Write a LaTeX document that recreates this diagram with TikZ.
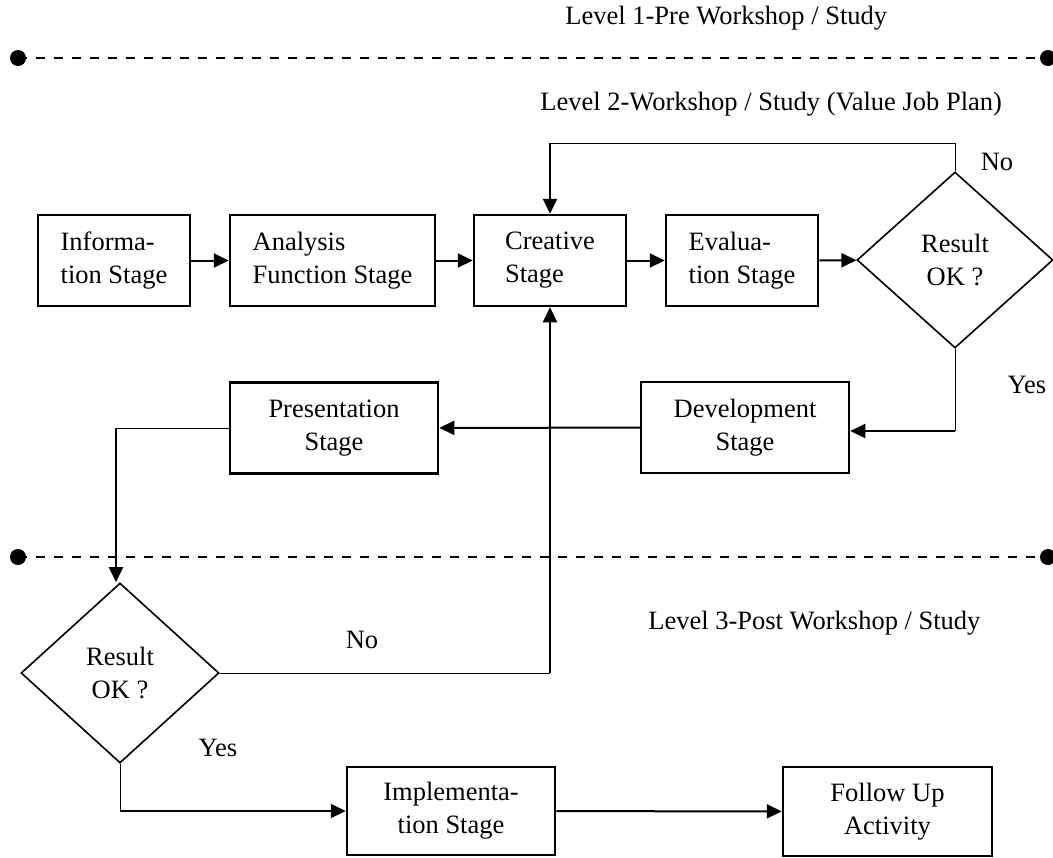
\documentclass[tikz,border=0pt]{standalone}
\usepackage{fontspec}
\setmainfont{Liberation Serif}
\usetikzlibrary{arrows.meta,shapes.geometric}
\begin{document}
\begin{tikzpicture}[x=0.5pt,y=-0.5pt,
  font=\fontsize{13.25}{16.5}\selectfont,
  stagebox/.style={draw,line width=1.25pt,inner sep=0pt,minimum height=45.5pt},
  decision/.style={draw,diamond,line width=0.8pt,inner sep=0pt,minimum width=98pt,minimum height=88pt,align=center},
  thinline/.style={line width=0.5pt},
  flow/.style={line width=1pt,-{Triangle[length=7.5pt,width=7pt]}},
  levelline/.style={line width=1.3pt,dash pattern=on 4.5pt off 4.5pt},
  lbl/.style={inner sep=0pt}]
\useasboundingbox (0,0) rectangle (1053,857);
% level separators
\fill (18,58) circle (4pt);
\fill (1048,58) circle (4pt);
\draw[levelline] (18,58) -- (1048,58);
\fill (18,557) circle (4pt);
\fill (1048,557) circle (4pt);
\draw[levelline] (18,557) -- (1048,557);
\node[lbl,anchor=west] (lv1) at (565,18) {Level 1-Pre Workshop / Study};
\node[lbl,anchor=west] (lv2) at (540,104) {Level 2-Workshop / Study (Value Job Plan)};
\node[lbl,anchor=west] (lv3) at (648,623) {Level 3-Post Workshop / Study};
% stages
\node[stagebox,minimum width=76pt,align=left] (info) at (114,260.5) {Informa-\\tion Stage};
\node[stagebox,minimum width=102.5pt,align=left] (ana) at (332.5,260.5) {Analysis\\Function Stage};
\node[stagebox,minimum width=76pt,align=left] (cre) at (550,260.5) {Creative\\Stage};
\node[stagebox,minimum width=76pt,align=left] (eva) at (742,260.5) {Evalua-\\tion Stage};
\node[decision] (d1) at (955,260) {Result\\OK ?};
\node[stagebox,minimum width=104pt,align=center] (dev) at (745,427.5) {Development\\Stage};
\node[stagebox,minimum width=104pt,align=center] (pre) at (334,428) {Presentation\\Stage};
\node[decision,minimum width=99pt,minimum height=90pt] (d2) at (120,673) {Result\\OK ?};
\node[stagebox,minimum width=104pt,minimum height=44pt,align=center] (imp) at (451,811) {Implementa-\\tion Stage};
\node[stagebox,minimum width=104.5pt,minimum height=44.5pt,align=center] (fol) at (887.5,811.5) {Follow Up\\Activity};
% labels
\node[lbl] (no1) at (997,162) {No};
\node[lbl] (yes1) at (1027,385) {Yes};
\node[lbl] (no2) at (362,640) {No};
\node[lbl] (yes2) at (218,748) {Yes};
% bends
\coordinate (b1) at (955,143);
\coordinate (b2) at (550,143);
\coordinate (b3) at (955,431);
\coordinate (b4) at (116,428);
\coordinate (b5) at (550,673);
\coordinate (b6) at (120,811);
% connectors
\draw[flow] (info) -- (ana);
\draw[flow] (ana) -- (cre);
\draw[flow] (cre) -- (eva);
\draw[flow] (eva) -- (d1);
\draw[thinline] (d1.north) -- (b1) -- (b2);
\draw[flow] (b2) -- (cre.north);
\draw[thinline] (d1.south) -- (b3);
\draw[flow] (b3) -- (b3 -| dev.east);
\draw[flow] (dev) -- (pre);
\draw[thinline] (pre.west) -- (b4);
\draw[flow] (b4) -- (b4 |- d2.north);
\draw[thinline] (d2.east) -- (b5);
\draw[flow] (b5) -- (cre.south);
\draw[thinline] (d2.south) -- (b6);
\draw[flow] (b6) -- (imp.west);
\draw[flow] (imp) -- (fol);
\end{tikzpicture}
\end{document}
